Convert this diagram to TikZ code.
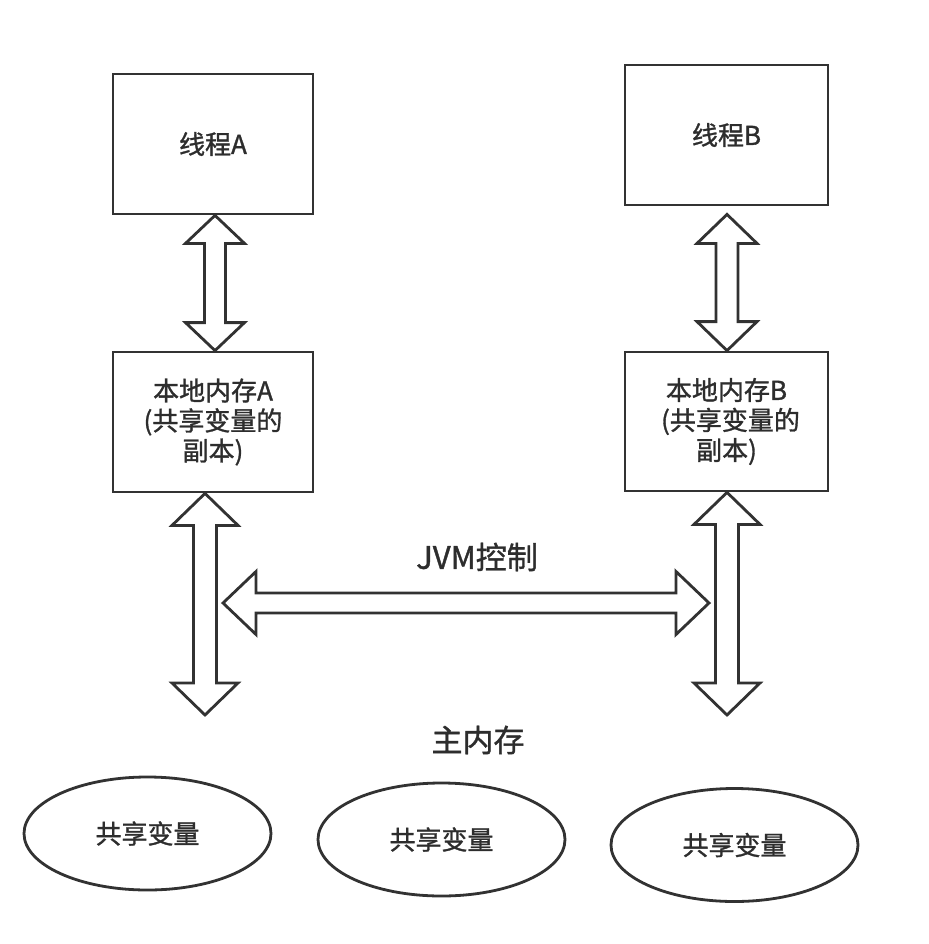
\documentclass[tikz,border=0pt]{standalone}
\usepackage{fontspec}
\setmainfont{Noto Sans CJK SC}[FakeBold=1.2]
\usetikzlibrary{shapes.geometric,calc}
\definecolor{ln}{RGB}{50,50,50}
\definecolor{tx}{RGB}{45,45,45}
\tikzset{
  boxnode/.style={draw=ln,line width=2.8pt,rectangle,inner sep=0pt,text=tx,align=center,font=\fontsize{26}{30}\selectfont},
  ellnode/.style={draw=ln,line width=2.8pt,ellipse,inner sep=0pt,minimum width=247pt,minimum height=113pt,text=tx,font=\fontsize{26}{30}\selectfont},
  lbl/.style={text=tx,inner sep=0pt,font=\fontsize{31}{36}\selectfont},
  blockarrow/.style={draw=ln,line width=2.8pt,fill=white,line join=miter}
}
% vertical double block arrow: top tip, bottom tip, head half width, shaft half width, head length
\newcommand{\vdarr}[5]{%
  \draw[blockarrow] let \p1=(#1), \p2=(#2) in
   (\x1,\y1) -- (\x1+#3pt,\y1-#5pt) -- (\x1+#4pt,\y1-#5pt) -- (\x1+#4pt,\y2+#5pt)
   -- (\x1+#3pt,\y2+#5pt) -- (\x1,\y2) -- (\x1-#3pt,\y2+#5pt) -- (\x1-#4pt,\y2+#5pt)
   -- (\x1-#4pt,\y1-#5pt) -- (\x1-#3pt,\y1-#5pt) -- cycle;}
% horizontal double block arrow: left tip, right tip, head half width, shaft half width, head length
\newcommand{\hdarr}[5]{%
  \draw[blockarrow] let \p1=(#1), \p2=(#2) in
   (\x1,\y1) -- (\x1+#5pt,\y1+#3pt) -- (\x1+#5pt,\y1+#4pt) -- (\x2-#5pt,\y1+#4pt)
   -- (\x2-#5pt,\y1+#3pt) -- (\x2,\y1) -- (\x2-#5pt,\y1-#3pt) -- (\x2-#5pt,\y1-#4pt)
   -- (\x1+#5pt,\y1-#4pt) -- (\x1+#5pt,\y1-#3pt) -- cycle;}
\begin{document}
\begin{tikzpicture}[x=1pt,y=-1pt]
\useasboundingbox[fill=white] (0,0) rectangle (928,944);
% boxes
\node[boxnode,minimum width=200pt,minimum height=140pt] (thA) at (213,144) {线程A};
\node[boxnode,minimum width=203pt,minimum height=140pt] (thB) at (726.5,135) {线程B};
\node[boxnode,minimum width=200pt,minimum height=140pt] (lmA) at (213,422) {本地内存A\\(共享变量的\\副本)};
\node[boxnode,minimum width=203pt,minimum height=139pt] (lmB) at (726.5,421.5) {本地内存B\\\hspace*{8pt}(共享变量的\\副本)};
% labels
\node[lbl] (jvm) at (477,557) {JVM控制};
\node[lbl] (main) at (478,740) {主内存};
% ellipses
\node[ellnode] (v1) at (147.5,833.5) {共享变量};
\node[ellnode] (v2) at (441.5,839.5) {共享变量};
\node[ellnode] (v3) at (734.5,845) {共享变量};
% arrow end points
\coordinate (a1t) at ($(thA.south)+(2,0)$);
\coordinate (a1b) at ($(lmA.north)+(2,0)$);
\coordinate (b1t) at ($(thB.south)+(0.5,8)$);
\coordinate (b1b) at ($(lmB.north)+(0.5,0)$);
\coordinate (a2t) at ($(lmA.south)+(-8,0)$);
\coordinate (a2b) at (205,715);
\coordinate (b2t) at ($(lmB.south)+(0.5,0)$);
\coordinate (b2b) at (727,715);
\coordinate (jL) at (223,603);
\coordinate (jR) at (709,603);
% arrows
\vdarr{a1t}{a1b}{29.5}{10.5}{28}
\vdarr{b1t}{b1b}{30}{11}{29}
\vdarr{a2t}{a2b}{33}{11.5}{32}
\vdarr{b2t}{b2b}{33}{11.5}{32}
\hdarr{jL}{jR}{31.5}{10}{33}
\end{tikzpicture}
\end{document}
